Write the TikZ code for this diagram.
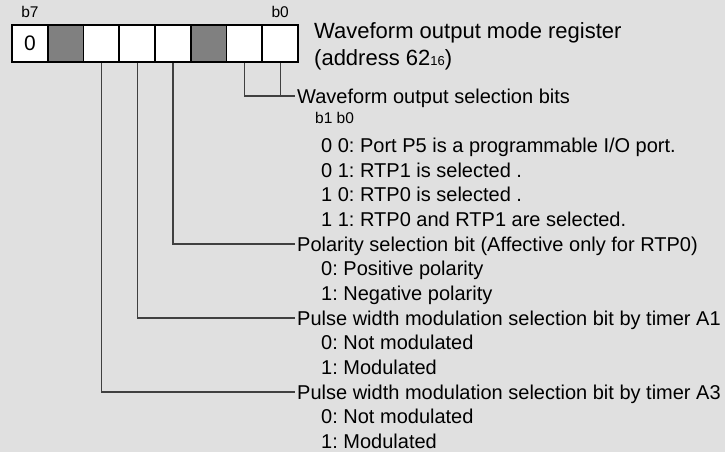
\documentclass[tikz,border=0pt]{standalone}
\usepackage{fontspec}
\setmainfont{Liberation Sans}
\usetikzlibrary{positioning}
\definecolor{bggray}{HTML}{E0E0E0}
\definecolor{rsvd}{HTML}{808080}
\frenchspacing

\begin{document}
\begin{tikzpicture}[x=1pt, y=-1pt, font=\fontsize{20}{24}\selectfont,
    cell/.style={draw, line width=1.6pt, minimum width=35.75pt, minimum height=37pt, inner sep=0pt, fill=white},
    bitno/.style={font=\fontsize{15.5}{18}\selectfont, inner sep=0pt},
    head/.style={anchor=west, inner xsep=2pt, inner ysep=0pt, text height=14.3pt, text depth=0pt},
    item/.style={head, inner xsep=0pt},
    title/.style={anchor=west, inner sep=0pt, text height=15.75pt, text depth=0pt, font=\fontsize{22}{26}\selectfont},
    wire/.style={draw=black!75, line width=1.2pt}]
    \useasboundingbox (0,0) rectangle (725,452);
    \fill[bggray] (0,0) rectangle (725,452);
    % register b7..b0
    \foreach \b/\col [count=\i from 0] in {7/white,6/rsvd,5/white,4/white,3/white,2/rsvd,1/white,0/white}
        \node[cell, fill=\col] (bit\b) at ({29.9+35.75*\i},43.5) {};
    \node[font=\fontsize{21}{24}\selectfont] (fix7) at (bit7) {0};
    \node[bitno, above=6.5pt of bit7] (lb7) {b7};
    \node[bitno, above=6.5pt of bit0] (lb0) {b0};
    \node[title] (reg1) at (314,30.5) {Waveform output mode register};
    \node[title] (reg2) at (314,57.5) {(address 62{\fontsize{13}{15}\selectfont 16})};
    % b1, b0
    \node[head] (wsel) at (295,96) {Waveform output selection bits};
    \node[bitno, anchor=west] (b1b0) at (315,118) {b1 b0};
    \node[item] (sel00) at (321,145.3) {0 0: Port P5 is a programmable I/O port.};
    \node[item] (sel01) at (321,170) {0 1: RTP1 is selected .};
    \node[item] (sel10) at (321,194.7) {1 0: RTP0 is selected .};
    \node[item] (sel11) at (321,219.3) {1 1: RTP0 and RTP1 are selected.};
    \draw[wire] (bit1.south) |- (wsel.west);
    \draw[wire] (bit0.south) -- (bit0.south |- wsel.west);
    % b3
    \node[head] (pol) at (295,244) {Polarity selection bit (Affective only for RTP0)};
    \node[item] (pol0) at (321,268.7) {0: Positive polarity};
    \node[item] (pol1) at (321,293.3) {1: Negative polarity};
    \draw[wire] (bit3.south) |- (pol.west);
    % b4
    \node[head] (pwma1) at (295,318) {Pulse width modulation selection bit by timer A1};
    \node[item] (pwma1n) at (321,342.7) {0: Not modulated};
    \node[item] (pwma1m) at (321,367.3) {1: Modulated};
    \draw[wire] (bit4.south) |- (pwma1.west);
    % b5
    \node[head] (pwma3) at (295,392) {Pulse width modulation selection bit by timer A3};
    \node[item] (pwma3n) at (321,416.7) {0: Not modulated};
    \node[item] (pwma3m) at (321,441.3) {1: Modulated};
    \draw[wire] (bit5.south) |- (pwma3.west);
\end{tikzpicture}
\end{document}
